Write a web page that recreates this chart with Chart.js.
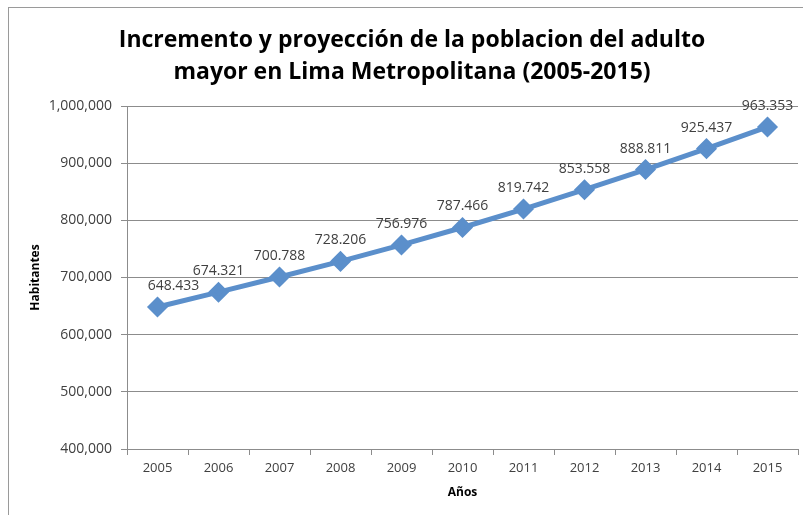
<!DOCTYPE html>
<html lang="es">
  <head>
    <meta charset="utf-8" />
    <script src="https://cdn.jsdelivr.net/npm/chart.js"></script>
    <style>
      html, body { margin: 0; padding: 0; background: #fff; }
      #wrap { width: 803px; height: 515px; }
    </style>
  </head>
  <body>
    <div id="wrap"><canvas id="myChart" width="803" height="515"></canvas></div>
    <script>
      const years = ["2005", "2006", "2007", "2008", "2009", "2010", "2011", "2012", "2013", "2014", "2015"];
      const population = [648433, 674321, 700788, 728206, 756976, 787466, 819742, 853558, 888811, 925437, 963353];
      const valueLabels = ["648.433", "674.321", "700.788", "728.206", "756.976", "787.466", "819.742", "853.558", "888.811", "925.437", "963.353"];
      const titleLines = ["Incremento y proyección de la poblacion del adulto", "mayor en Lima Metropolitana (2005-2015)"];

      const font = "'Open Sans', 'DejaVu Sans', sans-serif";
      const textColor = "#404040";
      const lineColor = "#5b8fcb";

      // border, title and the value labels above the points
      const extras = {
        id: "extras",
        beforeDraw(chart) {
          const c = chart.ctx;
          c.save();
          c.strokeStyle = "#9a9a9a";
          c.lineWidth = 1;
          c.strokeRect(8.5, 7.5, 800, 520);
          c.font = "bold 23px " + font;
          c.fillStyle = "#000";
          c.textAlign = "center";
          c.textBaseline = "middle";
          c.fillText(titleLines[0], 412, 40);
          c.fillText(titleLines[1], 412, 72);
          c.restore();
        },
        afterDatasetsDraw(chart) {
          const c = chart.ctx;
          const meta = chart.getDatasetMeta(0);
          c.save();
          c.font = "14px " + font;
          c.fillStyle = textColor;
          c.textAlign = "center";
          c.textBaseline = "bottom";
          meta.data.forEach((pt, i) => {
            const dx = i === 0 ? 16 : 0;
            c.fillText(valueLabels[i], pt.x + dx, pt.y - 14);
          });
          c.restore();
        },
      };

      const ctx = document.getElementById("myChart").getContext("2d");
      new Chart(ctx, {
        type: "line",
        data: {
          labels: years,
          datasets: [
            {
              data: population,
              borderColor: lineColor,
              backgroundColor: lineColor,
              borderWidth: 5,
              pointStyle: "rectRot",
              pointRadius: 7,
              pointHoverRadius: 7,
              pointBackgroundColor: lineColor,
              pointBorderColor: lineColor,
              tension: 0,
            },
          ],
        },
        options: {
          responsive: false,
          animation: false,
          layout: { autoPadding: false, padding: { left: 0, right: 5, top: 106, bottom: 0 } },
          plugins: {
            legend: { display: false },
            tooltip: { enabled: false },
            title: { display: false },
          },
          scales: {
            x: {
              offset: true,
              grid: {
                offset: true,
                drawOnChartArea: false,
                drawTicks: true,
                tickLength: 6,
                color: "#8c8c8c",
              },
              border: { color: "#8c8c8c" },
              ticks: { color: textColor, font: { family: font, size: 13 }, padding: 5, maxRotation: 0 },
              title: {
                display: true,
                text: "Años",
                color: "#000",
                font: { family: font, size: 12, weight: "bold" },
                padding: { top: 0, bottom: 15 },
              },
              afterFit(scale) { scale.height = 66; },
            },
            y: {
              min: 400000,
              max: 1000000,
              ticks: {
                stepSize: 100000,
                color: textColor,
                font: { family: font, size: 14 },
                padding: 9,
                callback: (v) => v.toLocaleString("en-US"),
              },
              grid: { color: "#8c8c8c", tickLength: 6 },
              border: { color: "#8c8c8c" },
              title: {
                display: true,
                text: "Habitantes",
                color: "#000",
                font: { family: font, size: 12, weight: "bold" },
                padding: { top: 28, bottom: 4 },
              },
              afterFit(scale) { scale.width = 127; },
            },
          },
        },
        plugins: [extras],
      });
    </script>
  </body>
</html>
